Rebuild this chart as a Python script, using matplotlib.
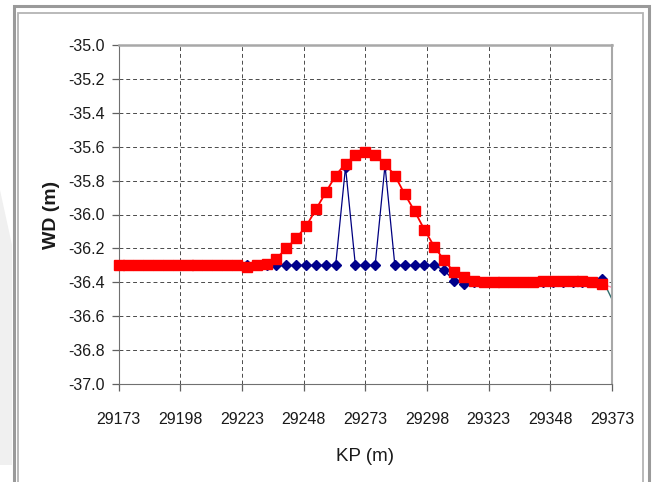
import matplotlib
matplotlib.use("Agg")
import matplotlib.pyplot as plt
from matplotlib.patches import Rectangle, Polygon

plt.rcParams['font.family'] = ['Liberation Sans', 'DejaVu Sans']

# KP positions (m)
kp = [29173, 29177, 29181, 29185, 29189, 29193, 29197, 29201, 29205, 29209,
      29213, 29217, 29221, 29225, 29229, 29233, 29237, 29241, 29245, 29249,
      29253, 29257, 29261, 29265, 29269, 29273, 29277, 29281, 29285, 29289,
      29293, 29297, 29301, 29305, 29309, 29313, 29317, 29321, 29325, 29329,
      29333, 29337, 29341, 29345, 29349, 29353, 29357, 29361, 29365, 29369]

# water depth, blue series (diamonds)
wd_blue = [-36.30] * 23 + [-35.72, -36.30, -36.30, -36.30, -35.71,
           -36.30, -36.30, -36.30, -36.30, -36.30, -36.33, -36.39, -36.41] + \
          [-36.40] * 13 + [-36.38]

# water depth, red series (squares)
wd_red = [-36.30] * 13 + [-36.31, -36.30, -36.29, -36.26, -36.20, -36.14,
          -36.07, -35.97, -35.87, -35.77, -35.70, -35.65, -35.63, -35.65,
          -35.70, -35.77, -35.88, -35.98, -36.09, -36.19, -36.27, -36.34,
          -36.37, -36.39] + [-36.40] * 6 + [-36.39] * 5 + [-36.40, -36.41]

# small tails past the last point
tail_kp = [29369, 29373]
tail_blue = [-36.38, -36.50]
tail_red = [-36.41, -36.43]

xticks = [29173, 29198, 29223, 29248, 29273, 29298, 29323, 29348, 29373]
yticks = [-35.0, -35.2, -35.4, -35.6, -35.8, -36.0, -36.2, -36.4, -36.6, -36.8, -37.0]

fig = plt.figure(figsize=(6.54, 4.82), dpi=100)
W, H = 654, 482

# page background and double frame
fig.patches.append(Polygon([(0 / W, 1 - 190 / H), (12 / W, 1 - 245 / H), (12 / W, 1 - 465 / H),
                            (0 / W, 1 - 465 / H)], closed=True, transform=fig.transFigure,
                           facecolor='#f0f0f0', edgecolor='none', zorder=0))
fig.patches.append(Rectangle((13.5 / W, -0.1), (649 - 13.5) / W, 1.1 - 5.5 / H,
                             transform=fig.transFigure, fill=False,
                             edgecolor='#9a9a9a', linewidth=2.2, zorder=1))
fig.patches.append(Rectangle((18 / W, -0.1), (643 - 18) / W, 1.1 - 12.5 / H,
                             transform=fig.transFigure, fill=False,
                             edgecolor='#b4b4b4', linewidth=1.3, zorder=1))

ax = fig.add_axes([118.5 / W, 1 - 384 / H, (612 - 118.5) / W, (384 - 45) / H])
ax.set_facecolor('none')

ax.plot(kp, wd_blue, color='#000080', linewidth=0.9, marker='D', markersize=4.8,
        markerfacecolor='#00008b', markeredgecolor='#00008b', zorder=3, clip_on=False)
ax.plot(kp, wd_red, color='#ff0000', linewidth=1.3, marker='s', markersize=6.5,
        markerfacecolor='#ff0000', markeredgecolor='#ff0000', zorder=4, clip_on=False)
ax.plot(tail_kp, tail_blue, color='#2f6f6f', linewidth=1.0, zorder=2, clip_on=False)
ax.plot(tail_kp, tail_red, color='#ff88aa', linewidth=1.0, zorder=2, clip_on=False)

ax.set_xlim(29173, 29373)
ax.set_ylim(-37.0, -35.0)
ax.set_xticks(xticks)
ax.set_yticks(yticks)
ax.set_xticklabels([str(t) for t in xticks])
ax.set_yticklabels(['%.1f' % t for t in yticks])

ax.grid(True, linestyle=(0, (4, 3)), color='#4a4a4a', linewidth=0.7)
ax.set_axisbelow(True)

ax.tick_params(axis='both', direction='out', length=5, width=0.9, colors='#606060',
               labelcolor='#1a1a1a', labelsize=11.5)
ax.tick_params(axis='x', pad=15)
ax.tick_params(axis='y', pad=5)

ax.spines['left'].set_color('#707070')
ax.spines['bottom'].set_color('#707070')
ax.spines['top'].set_color('#a8a8a8')
ax.spines['right'].set_color('#a8a8a8')
ax.spines['top'].set_linewidth(1.8)
ax.spines['right'].set_linewidth(1.5)

ax.set_xlabel("KP (m)", fontsize=13.5, color='#1a1a1a', labelpad=15)
ax.set_ylabel("WD (m)", fontsize=14, fontweight='bold', color='#1a1a1a', labelpad=6)

fig.savefig("out.png", dpi=100)
